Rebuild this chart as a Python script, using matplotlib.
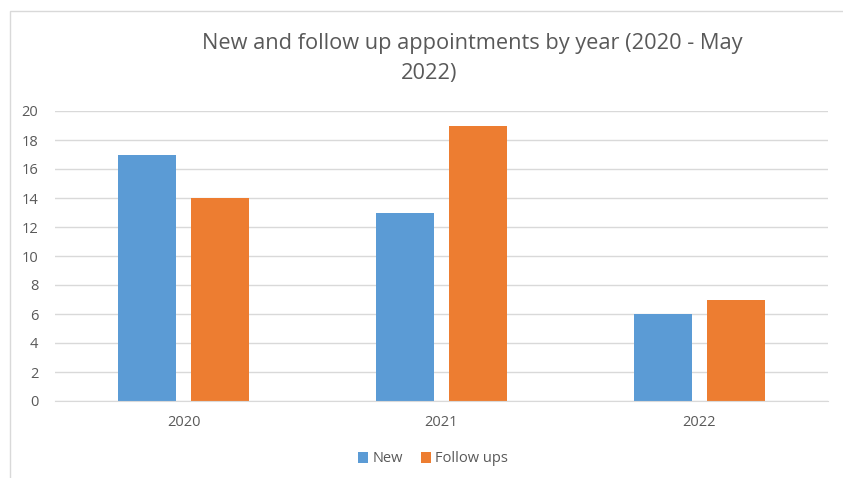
import matplotlib
matplotlib.use("Agg")
import matplotlib.pyplot as plt
import numpy as np
from matplotlib.patches import Rectangle

years = ["2020", "2021", "2022"]
new_appts = [17, 13, 6]
follow_ups = [14, 19, 7]
yticks = list(range(0, 21, 2))

BLUE = "#5B9BD5"
ORANGE = "#ED7D31"
GREY = "#595959"

plt.rcParams["font.family"] = ["Open Sans", "DejaVu Sans"]

W, H = 843, 478
fig = plt.figure(figsize=(W / 100, H / 100), dpi=100)

# outer chart border (extends past the right/bottom edge of the image)
fig.patches.append(Rectangle((10 / W, -0.1), 1.1, 1 - 11 / H + 0.1,
                             transform=fig.transFigure, fill=False,
                             edgecolor="#D9D9D9", linewidth=1))

ax = fig.add_axes([55 / W, 1 - 401 / H, (828 - 55) / W, (401 - 111) / H])
x = np.arange(len(years))
width = 0.225
off = 0.142
ax.bar(x - off, new_appts, width, color=BLUE, label="New")
ax.bar(x + off, follow_ups, width, color=ORANGE, label="Follow ups")

ax.set_xlim(-0.5, len(years) - 0.5)
ax.set_ylim(0, 20)
ax.set_yticks(yticks)
ax.set_xticks(x)
ax.set_xticklabels(years)
ax.tick_params(axis="both", length=0, colors=GREY, labelsize=10.5)
ax.tick_params(axis="x", pad=10)
ax.tick_params(axis="y", pad=12)
ax.grid(axis="y", color="#D9D9D9", linewidth=1)
ax.set_axisbelow(True)
for side in ["top", "right", "left"]:
    ax.spines[side].set_visible(False)
ax.spines["bottom"].set_color("#D9D9D9")

fig.text(472 / W, 1 - 44 / H, "New and follow up appointments by year (2020 - May",
         ha="center", va="center", fontsize=15.7, color=GREY)
fig.text(429 / W, 1 - 74 / H, "2022)", ha="center", va="center",
         fontsize=15.7, color=GREY)

fig.legend(loc="center", bbox_to_anchor=(433 / W, 1 - 459 / H), ncol=2,
           frameon=False, fontsize=10.5, handlelength=0.7, handleheight=0.7,
           handletextpad=0.3, columnspacing=1.2, labelcolor=GREY)

fig.savefig("out.png", dpi=100)
